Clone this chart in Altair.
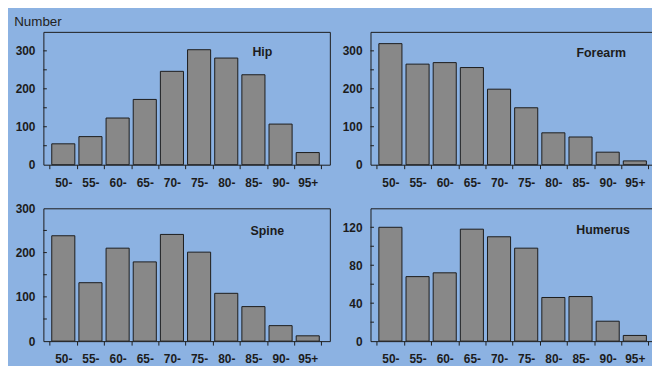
import altair as alt
import pandas as pd

# ---- data ----
age_bins = ["50-", "55-", "60-", "65-", "70-", "75-", "80-", "85-", "90-", "95+"]
hip = [55, 74, 123, 172, 246, 303, 281, 237, 107, 32]
forearm = [319, 265, 269, 256, 199, 150, 84, 73, 33, 10]
spine = [238, 132, 210, 179, 241, 201, 108, 78, 35, 12]
humerus = [120, 68, 72, 118, 110, 98, 46, 47, 21, 6]

hip_major = [0, 100, 200, 300]
hip_minor = [50, 100, 150, 200, 250, 300]
spine_major = [0, 100, 200, 300]
spine_minor = [50, 100, 150, 200, 250]
humerus_major = [0, 40, 80, 120]
humerus_minor = [20, 40, 60, 80, 100, 120]

BG = "#8CB2E2"
BAR = "#888888"
INK = "#1c1c1c"
FONT = "Liberation Sans"

W = 289          # plot width of each panel
H = 134          # plot height of each panel
STEP = 27.4      # pixels per age band
X_LO = -0.233
X_HI = X_LO + W / STEP

label_js = "[" + ",".join("'%s'" % b for b in age_bins) + "]"


def panel(name, values, ymax, major, minor, title_dx, title_off, ytitle=None):
    df = pd.DataFrame({"bin": age_bins, "idx": list(range(len(age_bins))), "count": values})
    xscale = alt.Scale(domain=[X_LO, X_HI], nice=False, zero=False)
    yscale = alt.Scale(domain=[0, ymax], nice=False, zero=True)
    yaxis_kw = dict(values=major, ticks=False, tickSize=0, labelPadding=8.5, domain=False)
    if ytitle:
        yaxis_kw.update(
            titleAngle=0, titleX=-30, titleY=-6.5, titleAlign="left",
            titleBaseline="alphabetic", titleFontWeight="normal",
            titleFontSize=13.5, titleFont=FONT, titleColor="#222222",
        )
    bars = (
        alt.Chart(df)
        .transform_calculate(x0="datum.idx + 0.075", x1="datum.idx + 0.925")
        .mark_bar(fill=BAR, stroke=INK, strokeWidth=1)
        .encode(
            x=alt.X(
                "x0:Q",
                scale=xscale,
                title=None,
                axis=alt.Axis(
                    values=list(range(len(age_bins) + 1)),
                    labelExpr=label_js + "[datum.value] || ''",
                    labelOffset=STEP / 2,
                    tickSize=4,
                    labelPadding=9,
                    labelFlush=False,
                    labelOverlap=False,
                    domain=False,
                ),
            ),
            x2="x1:Q",
            y=alt.Y("count:Q", scale=yscale, title=ytitle, axis=alt.Axis(**yaxis_kw)),
            y2=alt.datum(0),
        )
    )
    ticks = (
        alt.Chart(pd.DataFrame({"v": minor}))
        .mark_rule(color=INK, strokeWidth=1)
        .encode(
            y=alt.Y("v:Q", scale=yscale, title=ytitle),
            x=alt.value(0),
            x2=alt.value(3.5),
        )
    )
    return alt.layer(bars, ticks).properties(
        width=W,
        height=H,
        title=alt.TitleParams(
            name,
            anchor="end",
            frame="group",
            orient="top",
            offset=title_off,
            dx=title_dx,
            baseline="alphabetic",
            fontSize=12.5,
            fontWeight="bold",
            color=INK,
            font=FONT,
        ),
    )


p_hip = panel("Hip", hip, 350, hip_major, hip_minor, -58, -54.5, ytitle="Number")
p_fore = panel("Forearm", forearm, 350, hip_major, hip_minor, -31.2, -38)
p_spine = panel("Spine", spine, 300, spine_major, spine_minor, -46, -45)
p_hum = panel("Humerus", humerus, 140, humerus_major, humerus_minor, -27.2, -38.5)

chart = (
    alt.concat(p_hip, p_fore, p_spine, p_hum, columns=2, bounds="flush",
               spacing={"row": 44, "column": 41})
    .properties(
        background=BG,
        padding={"left": 4.7, "top": 4.5, "right": -11, "bottom": -1.5},
    )
    .configure_view(stroke=INK, strokeWidth=1)
    .configure_axis(
        labelFont=FONT,
        labelFontWeight="bold",
        labelFontSize=12,
        labelColor=INK,
        tickColor=INK,
        tickWidth=1,
        grid=False,
    )
)

chart.save("out.html", embed_options={"renderer": "svg", "actions": False})
